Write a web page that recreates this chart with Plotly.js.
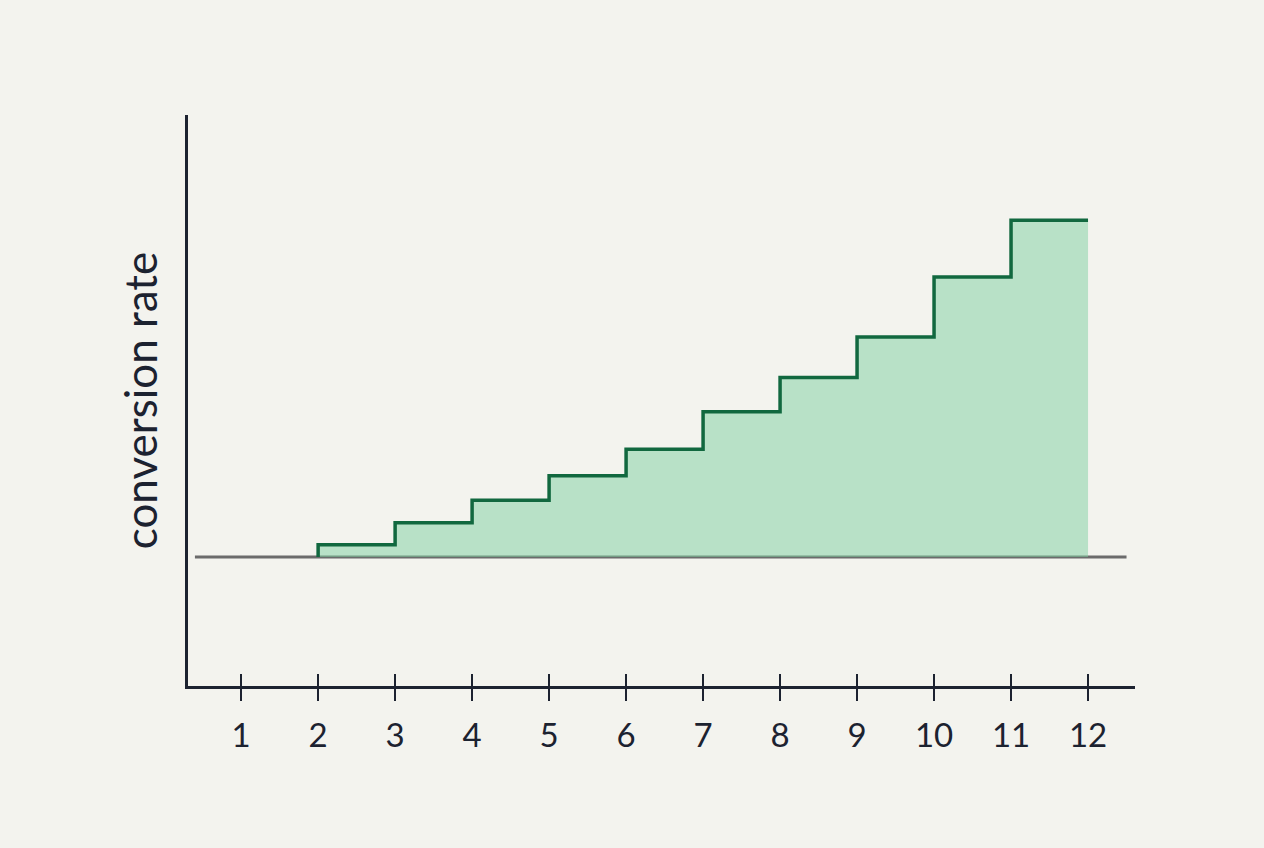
<!DOCTYPE html>
<html>
<head>
<meta charset="utf-8">
<script src="https://cdn.plot.ly/plotly-3.0.1.min.js"></script>
<style>
html,body{margin:0;padding:0;background:#f3f3ee;}
#chart{width:1264px;height:848px;}
</style>
</head>
<body>
<div id="chart"></div>
<script>
// Data
var tickMonths = [1,2,3,4,5,6,7,8,9,10,11,12];
var tickLabels = ['1','2','3','4','5','6','7','8','9','10','11','12'];
var stepMonths = [2,2,3,4,5,6,7,8,9,10,11,12];
var stepRates  = [2.0,2.19,2.53,2.88,3.26,3.67,4.25,4.78,5.41,6.34,7.22,7.22];
var baselineRate = 2.0;
var baselineMonths = [0.4, 12.5];
var fillMonths = [2, 12];

var ink = '#1c2230';
var green = '#11683f';

var traces = [
  { // baseline line
    x: baselineMonths, y: baselineMonths.map(function(){return baselineRate;}),
    mode: 'lines', line: {color: '#6b6b6b', width: 3},
    hoverinfo: 'skip', showlegend: false
  },
  { // fill bottom
    x: fillMonths, y: fillMonths.map(function(){return baselineRate;}),
    mode: 'lines', line: {color: 'rgba(0,0,0,0)', width: 0},
    hoverinfo: 'skip', showlegend: false
  },
  { // step
    x: stepMonths, y: stepRates,
    mode: 'lines', line: {color: green, width: 3.5, shape: 'hv'},
    fill: 'tonexty', fillcolor: 'rgba(125,208,160,0.5)',
    showlegend: false
  },
  { // dummy for second axis (crossing ticks)
    x: tickMonths, y: tickMonths.map(function(){return baselineRate;}),
    xaxis: 'x2', mode: 'markers', marker: {opacity: 0},
    hoverinfo: 'skip', showlegend: false
  }
];

var layout = {
  width: 1264, height: 848,
  paper_bgcolor: '#f3f3ee', plot_bgcolor: 'rgba(0,0,0,0)',
  margin: {l: 188, r: 129, t: 115, b: 162},
  font: {family: 'Lato, "Open Sans", sans-serif', color: ink},
  xaxis: {
    range: [0.31, 12.61], showgrid: false, zeroline: false,
    showline: true, linecolor: ink, linewidth: 3,
    tickmode: 'array', tickvals: tickMonths, ticktext: tickLabels,
    ticks: 'outside', ticklen: 12, tickwidth: 2.5, tickcolor: ink,
    ticklabelstandoff: 6,
    tickfont: {size: 33, color: ink}
  },
  xaxis2: {
    overlaying: 'x', range: [0.31, 12.61], anchor: 'y', side: 'bottom',
    showgrid: false, zeroline: false, showline: false,
    tickmode: 'array', tickvals: tickMonths,
    ticks: 'inside', ticklen: 12, tickwidth: 2.5, tickcolor: ink,
    showticklabels: false
  },
  yaxis: {
    range: [0, 8.85], showgrid: false, zeroline: false,
    showline: true, linecolor: ink, linewidth: 3,
    showticklabels: false, ticks: '',
    title: {text: 'conversion rate', font: {size: 44, color: ink}, standoff: 14}
  }
};

Plotly.newPlot('chart', traces, layout, {displayModeBar: false, staticPlot: true});
</script>
</body>
</html>
